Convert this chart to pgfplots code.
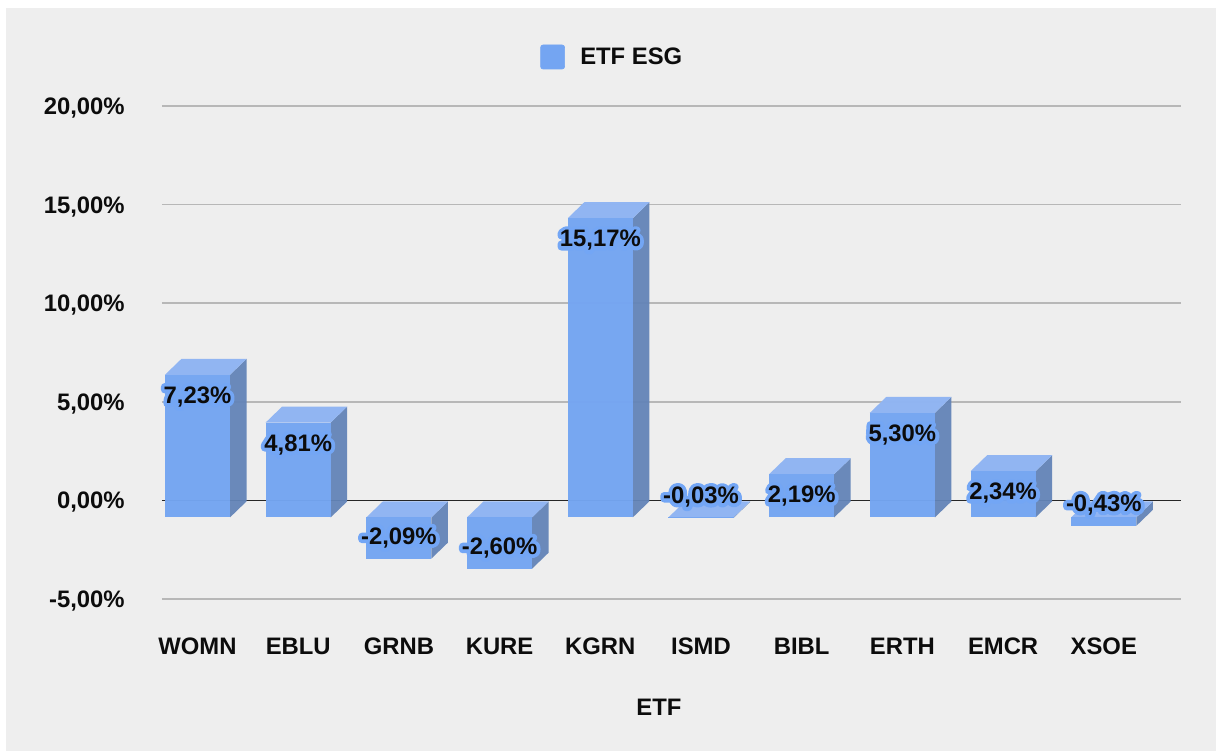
\documentclass[border=0pt]{standalone}
\usepackage{fontspec}
\setmainfont{Liberation Sans}
\usepackage{pgfplots}
\pgfplotsset{compat=1.18}

\definecolor{bgcol}{HTML}{EEEEEE}
\definecolor{gridcol}{HTML}{B7B7B7}
\definecolor{frontcol}{HTML}{74A5F2}
\definecolor{topcol}{HTML}{8FB4F3}
\definecolor{sidecol}{HTML}{6384B8}
\definecolor{txt}{HTML}{0C0C0C}

% value label with a blue outline: stroked copy first, plain text on top
\newcommand{\halo}[1]{%
  \rlap{\special{pdf:code 1 Tr 4.6 w 1 j 0.45 0.65 0.96 RG}#1\special{pdf:code 0 Tr 1 w 0 j}}#1}

% one 3D bar: index, value (offsets: 16 px up and right, base 17 px under zero)
\newcommand{\threedbar}[2]{%
  \pgfmathsetmacro{\xl}{#1-0.323}\pgfmathsetmacro{\xr}{#1+0.323}%
  \pgfmathsetmacro{\xbl}{#1-0.159}\pgfmathsetmacro{\xbr}{#1+0.487}%
  \pgfmathsetmacro{\hi}{max(#2,0)-0.86}\pgfmathsetmacro{\lo}{min(#2,0)-0.86}%
  \pgfmathsetmacro{\hib}{\hi+0.81}\pgfmathsetmacro{\lob}{\lo+0.81}%
  \edef\temp{%
    \noexpand\addplot[forget plot,draw=none,fill=sidecol,fill opacity=0.95] coordinates {(\xr,\lo) (\xbr,\lob) (\xbr,\hib) (\xr,\hi)} --cycle;
    \noexpand\addplot[forget plot,draw=none,fill=topcol,fill opacity=0.97] coordinates {(\xl,\hi) (\xr,\hi) (\xbr,\hib) (\xbl,\hib)} --cycle;
    \noexpand\addplot[forget plot,draw=none,fill=frontcol,fill opacity=0.97] coordinates {(\xl,\lo) (\xr,\lo) (\xr,\hi) (\xl,\hi)} --cycle;
  }\temp}

\begin{document}
\begin{tikzpicture}
\path[use as bounding box,fill=white] (-97.2pt,-91.2pt) rectangle (632.4pt,359.4pt);
\fill[bgcol] (-93.6pt,-91.2pt) rectangle (632.4pt,354.6pt);
\begin{axis}[
    at={(0pt,0pt)},
    anchor=south west,
    scale only axis,
    width=611.4pt,
    height=295.8pt,
    xmin=-0.3525,
    xmax=9.767,
    ymin=-5,
    ymax=20,
    clip=false,
    axis line style={draw=none},
    tick style={draw=none},
    ytick={-5,0,5,10,15,20},
    yticklabels={{-5,00\%},{0,00\%},{5,00\%},{10,00\%},{15,00\%},{20,00\%}},
    xtick={0,1,2,3,4,5,6,7,8,9},
    xticklabels={WOMN,EBLU,GRNB,KURE,KGRN,ISMD,BIBL,ERTH,EMCR,XSOE},
    ymajorgrids=true,
    grid style={gridcol,line width=0.9pt},
    tick label style={font=\fontsize{14.3}{16}\bfseries,text=txt},
    yticklabel style={inner sep=0pt,anchor=east,xshift=-22.2pt,yshift=-1.2pt},
    xticklabel style={inner sep=0pt,anchor=center,yshift=-28.2pt},
    xlabel={ETF},
    xlabel style={font=\fontsize{14.3}{16}\bfseries,text=txt,at={(axis description cs:0.4877,-0.219)},anchor=center},
    legend style={draw=none,fill=none,at={(0.4425,1.0994)},anchor=center,font=\fontsize{14.3}{16}\bfseries,text=txt},
]
\addlegendimage{legend image code/.code={
  \fill[frontcol,rounded corners=1.5pt] (0pt,-7.2pt) rectangle (14.4pt,7.2pt);
  \path (21.6pt,0pt);}}
\addlegendentry{ETF ESG}

% zero line under the bars
\addplot[forget plot,black!85,line width=0.8pt] coordinates {(-0.3525,0) (9.767,0)};

\threedbar{0}{7.23}
\threedbar{1}{4.81}
\threedbar{2}{-2.09}
\threedbar{3}{-2.60}
\threedbar{4}{15.17}
\threedbar{5}{-0.03}
\threedbar{6}{2.19}
\threedbar{7}{5.30}
\threedbar{8}{2.34}
\threedbar{9}{-0.43}

% value labels, positive ones sit 38 px under the value, negative ones 5 px above
\addplot[forget plot,draw=none,point meta=explicit symbolic,
  nodes near coords={\halo{\pgfplotspointmeta}},
  nodes near coords style={font=\fontsize{14.3}{16}\bfseries,text=txt,anchor=center,inner sep=0pt,yshift=-23.4pt}]
  coordinates {(0,7.23)[7,23\%] (1,4.81)[4,81\%] (4,15.17)[15,17\%] (6,2.19)[2,19\%] (7,5.30)[5,30\%] (8,2.34)[2,34\%]};
\addplot[forget plot,draw=none,point meta=explicit symbolic,
  nodes near coords={\halo{\pgfplotspointmeta}},
  nodes near coords style={font=\fontsize{14.3}{16}\bfseries,text=txt,anchor=center,inner sep=0pt,yshift=2.4pt}]
  coordinates {(2,-2.09)[-2,09\%] (3,-2.60)[-2,60\%] (5,-0.03)[-0,03\%] (9,-0.43)[-0,43\%]};
\end{axis}
\end{tikzpicture}
\end{document}
